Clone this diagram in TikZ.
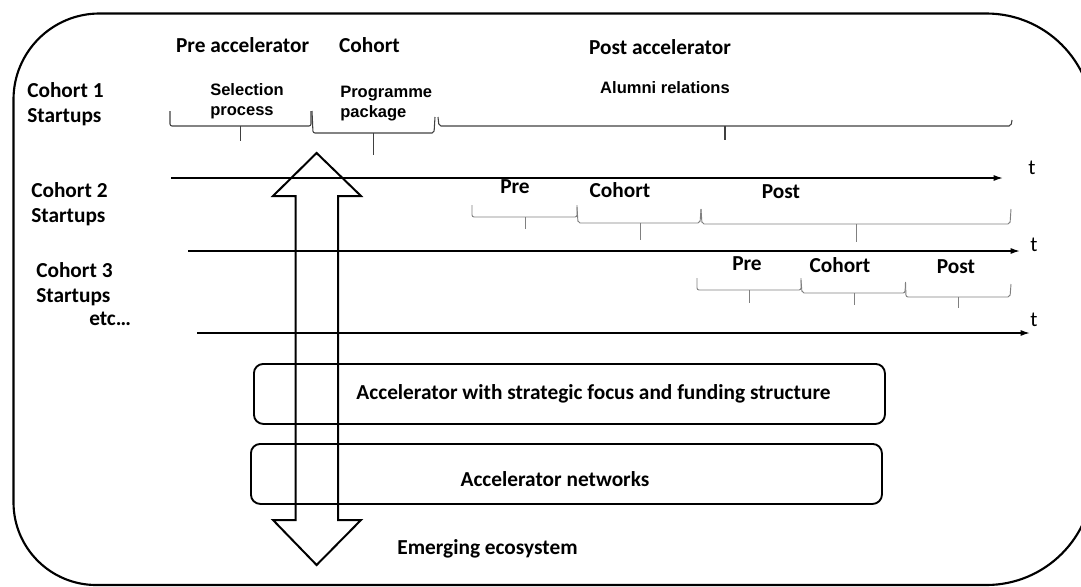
\documentclass[tikz,border=0pt]{standalone}
\usepackage{fontspec}
\setmainfont{Carlito}
\newfontfamily\arialf{Liberation Sans}
\usetikzlibrary{arrows.meta}
\begin{document}
\begin{tikzpicture}[x=0.75pt,y=-0.75pt,
  lbl/.style={font=\fontsize{16}{19}\selectfont\bfseries, inner sep=0pt},
  tl/.style={font=\fontsize{16}{19}\selectfont, inner sep=0pt},
  sub/.style={font=\arialf\fontsize{12.4}{15}\selectfont\bfseries, inner sep=0pt},
  axis/.style={line width=1.1pt, -{Latex[length=7pt,width=4.5pt]}},
  br1/.style={line width=0.8pt, black!75, rounded corners=1.5pt},
  br2/.style={line width=0.7pt, black!50, rounded corners=1.5pt},
  box/.style={draw, line width=1.4pt, rounded corners=7pt, minimum width=473.25pt, minimum height=45pt, anchor=north west, inner sep=0pt},
]
\useasboundingbox (0,0) rectangle (1081,586);
\clip (0,0) rectangle (1081,586);
% outer frame
\draw[line width=1.6pt] (13.5,300) [rounded corners=64.5pt] -- (13.5,13.5) -- (540,13.5)
  [rounded corners=80pt] -- (1093,13.5) -- (1093,585) -- (540,585)
  [rounded corners=62pt] -- (13.5,585) -- cycle;

% headings
\node[lbl] (hpre) at (242.6,45) {Pre accelerator};
\node[lbl] (hcoh) at (369.5,45) {Cohort};
\node[lbl] (hpost) at (660,47) {Post accelerator};

% row labels
\node[lbl, anchor=west, align=left] (c1) at (27,104.5) {Cohort 1\\Startups};
\node[lbl, anchor=west, align=left] (c2) at (31,204) {Cohort 2\\Startups};
\node[lbl, anchor=west, align=left] (c3) at (36,284) {Cohort 3\\Startups};
\node[lbl, anchor=west] (etc) at (89,319) {etc…};

% cohort 1 sub labels
\node[sub, anchor=west, align=left] (sel) at (210,101) {Selection\\process};
\node[sub, anchor=west, align=left] (prog) at (340,104) {Programme\\package};
\node[sub] (alum) at (665,88) {Alumni relations};

% cohort 1 brackets
\draw[br1] (170,111) -- (170,126) -- (311,126) -- (311,111);
\draw[br1] (240.7,126) -- (240.7,141);
\draw[br1] (312,111) -- (313,133) -- (434,133) -- (435,117);
\draw[br1] (373.4,133) -- (373.4,155);
\draw[br1] (438,117) -- (439,126) -- (1011,126) -- (1012,120);
\draw[br1] (725,126) -- (725,140);

% timelines
\coordinate (a1s) at (171,178); \coordinate (a1e) at (1003,178);
\coordinate (a2s) at (188,251); \coordinate (a2e) at (1020,251);
\coordinate (a3s) at (197,333); \coordinate (a3e) at (1030,333);
\draw[axis] (a1s) -- (a1e);
\draw[axis] (a2s) -- (a2e);
\draw[axis] (a3s) -- (a3e);
\node[tl] (t1) at (1032,168) {t};
\node[tl] (t2) at (1034,245) {t};
\node[tl] (t3) at (1034,320) {t};

% cohort 2 phases
\node[lbl] (p2pre) at (515,187) {Pre};
\node[lbl] (p2coh) at (620,190) {Cohort};
\node[lbl] (p2post) at (781,192) {Post};
\draw[br2] (472,205) -- (472,217) -- (577,217) -- (577,205);
\draw[br2] (525,217) -- (525,229);
\draw[br2] (577,207) -- (578,223) -- (700,223) -- (701,209);
\draw[br2] (640,223) -- (640,240);
\draw[br2] (701,209) -- (702,224) -- (1010,224) -- (1011,209);
\draw[br2] (856,224) -- (856,242);

% cohort 3 phases
\node[lbl] (p3pre) at (747,264) {Pre};
\node[lbl] (p3coh) at (840,265) {Cohort};
\node[lbl] (p3post) at (956,267) {Post};
\draw[br2] (697,278) -- (697,290) -- (801,290) -- (801,278);
\draw[br2] (749,290) -- (749,303);
\draw[br2] (801,280) -- (802,293) -- (905,293) -- (905.5,282);
\draw[br2] (854,293) -- (854,305);
\draw[br2] (905.5,282) -- (906,297) -- (1010,297) -- (1011,284);
\draw[br2] (958,297) -- (958,308);

% boxes
\node[box] (accbox) at (253,363) {};
\node[lbl] (acctext) at (593.5,394) {Accelerator with strategic focus and funding structure};
\node[box] (netbox) at (250,443) {};
\node[lbl] (nettext) at (555,479) {Accelerator networks};
\node[lbl] (eco) at (487.5,549) {Emerging ecosystem};

% double block arrow
\draw[line width=1.5pt, line join=miter] (316.6,153) -- (361,196) -- (338,196) -- (338,520) -- (361,520) -- (316.6,565) -- (273,520) -- (295.5,520) -- (295.5,196) -- (273,196) -- cycle;
\end{tikzpicture}
\end{document}
